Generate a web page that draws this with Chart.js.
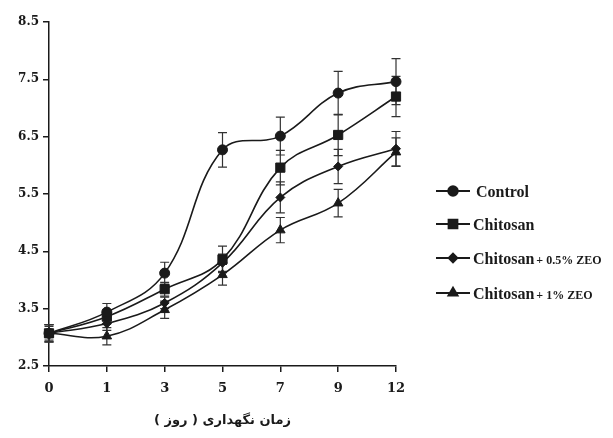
<!DOCTYPE html>
<html>
<head>
<meta charset="utf-8">
<script src="https://cdn.jsdelivr.net/npm/chart.js@4.4.0/dist/chart.umd.min.js"></script>
<style>
  html, body { margin: 0; padding: 0; background: #fff; }
  #wrap { position: relative; width: 613px; height: 438px; }
</style>
</head>
<body>
<div id="wrap"><canvas id="c" width="613" height="438"></canvas></div>
<script>
// ---- data ----
const categories = ['0', '1', '3', '5', '7', '9', '12'];
const seriesNames = ['Control', 'Chitosan', 'Chitosan', 'Chitosan'];
const seriesSuffix = ['', '', '+ 0.5% ZEO', '+ 1% ZEO'];
const controlValues    = [3.07, 3.44, 4.12, 6.27, 6.51, 7.26, 7.46];
const chitosanValues   = [3.07, 3.36, 3.84, 4.36, 5.96, 6.53, 7.20];
const chitosan05Values = [3.07, 3.24, 3.60, 4.30, 5.44, 5.98, 6.29];
const chitosan1Values  = [3.07, 3.02, 3.48, 4.09, 4.87, 5.34, 6.23];
const controlErr    = [0.15, 0.15, 0.19, 0.30, 0.33, 0.38, 0.40];
const chitosanErr   = [0.15, 0.12, 0.12, 0.23, 0.30, 0.36, 0.35];
const chitosan05Err = [0.12, 0.12, 0.10, 0.15, 0.27, 0.30, 0.30];
const chitosan1Err  = [0.15, 0.15, 0.15, 0.18, 0.22, 0.24, 0.25];
const yTicks = [2.5, 3.5, 4.5, 5.5, 6.5, 7.5, 8.5];
const xTitle = '\u200Fزمان نگهداری ( روز )\u200F';

const ink = '#1a1a1a';
function ds(label, data, err, style, r) {
  return {
    label, data, errors: err,
    borderColor: ink, backgroundColor: ink,
    borderWidth: 1.6, tension: 0.4,
    pointStyle: style, pointRadius: r, pointHoverRadius: r,
    pointBackgroundColor: ink, pointBorderColor: ink, pointBorderWidth: 1
  };
}

const errorBars = {
  id: 'errorBars',
  beforeDatasetsDraw(chart) {
    const ctx = chart.ctx, y = chart.scales.y;
    ctx.save();
    ctx.strokeStyle = '#333';
    ctx.lineWidth = 1.2;
    chart.data.datasets.forEach((d, di) => {
      const meta = chart.getDatasetMeta(di);
      meta.data.forEach((pt, i) => {
        const e = d.errors[i];
        const v = d.data[i];
        const yt = y.getPixelForValue(v + e), yb = y.getPixelForValue(v - e);
        const x = pt.x, w = 4.5;
        ctx.beginPath();
        ctx.moveTo(x, yt); ctx.lineTo(x, yb);
        ctx.moveTo(x - w, yt); ctx.lineTo(x + w, yt);
        ctx.moveTo(x - w, yb); ctx.lineTo(x + w, yb);
        ctx.stroke();
      });
    });
    ctx.restore();
  }
};

const customLegend = {
  id: 'customLegend',
  afterDraw(chart) {
    const ctx = chart.ctx;
    const ys = [191, 224, 258, 293];
    ctx.save();
    chart.data.datasets.forEach((d, i) => {
      const yy = ys[i];
      ctx.strokeStyle = ink; ctx.lineWidth = 2;
      ctx.beginPath(); ctx.moveTo(436, yy); ctx.lineTo(470, yy); ctx.stroke();
      Chart.helpers.drawPoint(ctx, {pointStyle: d.pointStyle, radius: d.pointRadius * 0.95, borderWidth: 1}, 453, yy);
      ctx.fillStyle = ink;
      ctx.fill();
      ctx.textBaseline = 'alphabetic';
      ctx.textAlign = 'left';
      ctx.font = 'bold 16px "Liberation Serif", "Times New Roman", serif';
      const x0 = i === 0 ? 476 : 473;
      ctx.fillText(seriesNames[i], x0, yy + 6);
      if (seriesSuffix[i]) {
        const w = ctx.measureText(seriesNames[i]).width;
        ctx.font = 'bold 12px "Liberation Serif", "Times New Roman", serif';
        ctx.fillText(seriesSuffix[i], x0 + w + 2, yy + 6);
      }
    });
    ctx.restore();
  }
};

new Chart(document.getElementById('c'), {
  type: 'line',
  data: {
    labels: categories,
    datasets: [
      ds('Control', controlValues, controlErr, 'circle', 5),
      ds('Chitosan', chitosanValues, chitosanErr, 'rect', 6.5),
      ds('Chitosan+ 0.5% ZEO', chitosan05Values, chitosan05Err, 'rectRot', 4.5),
      ds('Chitosan+ 1% ZEO', chitosan1Values, chitosan1Err, 'triangle', 5.5)
    ]
  },
  options: {
    responsive: false,
    animation: false,
    devicePixelRatio: 1,
    layout: { padding: { top: 22, right: 217, bottom: 0, left: 0 } },
    plugins: { legend: { display: false }, tooltip: { enabled: false } },
    scales: {
      x: {
        type: 'category',
        offset: false,
        grid: { display: true, drawOnChartArea: false, drawTicks: true, tickLength: 6, color: ink, lineWidth: 1.5 },
        border: { display: true, color: ink, width: 1.5 },
        ticks: { color: ink, padding: 9, font: { family: '"DejaVu Serif", serif', weight: 'bold', size: 13 } },
        title: { display: true, text: xTitle, color: ink, padding: { top: 0, bottom: 10 },
                 font: { family: '"DejaVu Sans", sans-serif', weight: 'bold', size: 13 } },
        afterFit(s) { s.height = 72; }
      },
      y: {
        min: 2.5, max: 8.5,
        afterBuildTicks(s) { s.ticks = yTicks.map(v => ({ value: v })); },
        grid: { display: true, drawOnChartArea: false, drawTicks: true, tickLength: 6, color: ink, lineWidth: 1.5 },
        border: { display: true, color: ink, width: 1.5 },
        ticks: { color: ink, padding: 4, callback: v => Number(v).toFixed(1),
                 font: { family: '"DejaVu Serif", serif', weight: 'bold', size: 12 } },
        afterFit(s) { s.width = 49; }
      }
    }
  },
  plugins: [errorBars, customLegend]
});
</script>
</body>
</html>
